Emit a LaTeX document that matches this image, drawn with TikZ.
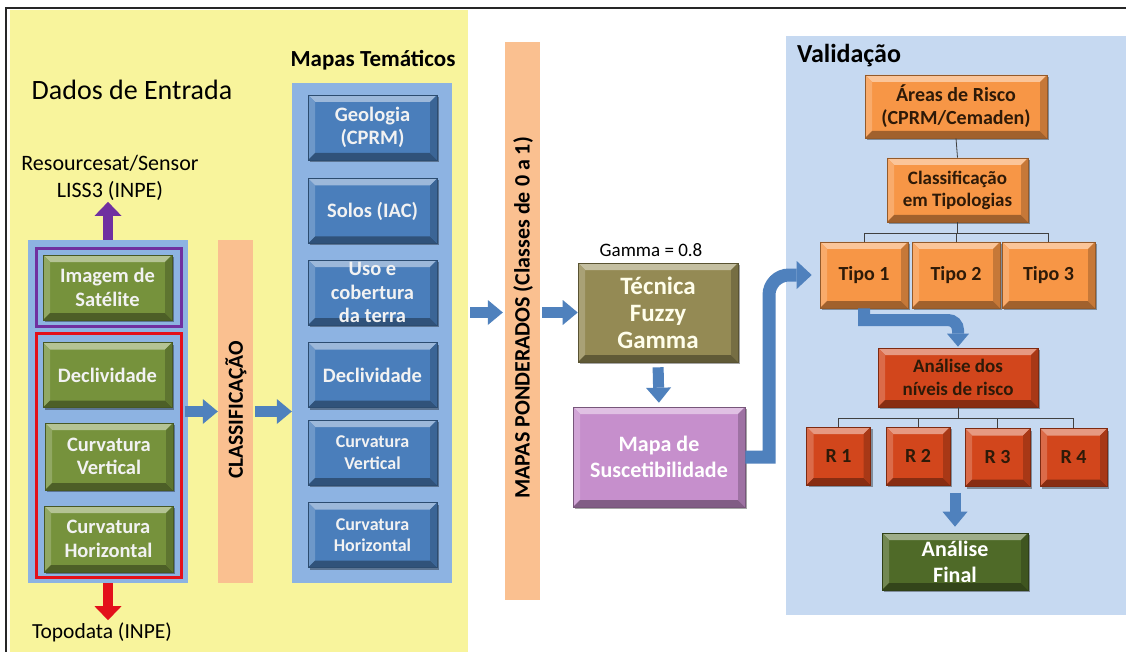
\documentclass[tikz,border=0pt]{standalone}
\usepackage{fontspec}
\setmainfont{Carlito}
\usetikzlibrary{arrows.meta,shadows}
\definecolor{ybgc}{HTML}{F8F49C}
\definecolor{panelB}{HTML}{8DB3E2}
\definecolor{panelV}{HTML}{C6D9F1}
\definecolor{barO}{HTML}{FAC090}
\definecolor{boxBlue}{HTML}{4A7EBB}
\definecolor{boxGreen}{HTML}{76923C}
\definecolor{boxOlive}{HTML}{948A54}
\definecolor{boxPink}{HTML}{C68FCC}
\definecolor{boxOrange}{HTML}{F79646}
\definecolor{boxRed}{HTML}{D2461C}
\definecolor{boxFinal}{HTML}{4F6A28}
\definecolor{arrowB}{HTML}{4F81BD}
\definecolor{purp}{HTML}{7030A0}
\definecolor{redF}{HTML}{E3101A}
\definecolor{txtDark}{HTML}{2E1A08}
\definecolor{txtLight}{HTML}{F2F2F2}
\newcommand\fs[2]{\fontsize{#1}{#2}\selectfont}
\tikzset{
  bev/.style n args={2}{fill=#1, draw=#1!60!black, line width=0.6pt, text=#2,
    align=center, inner sep=0pt,
    drop shadow={shadow xshift=2pt,shadow yshift=-2pt,opacity=0.35,fill=black},
    path picture={
      \coordinate (pNW) at (path picture bounding box.north west);
      \coordinate (pNE) at (path picture bounding box.north east);
      \coordinate (pSW) at (path picture bounding box.south west);
      \coordinate (pSE) at (path picture bounding box.south east);
      \fill[#1!55!white] (pNW) -- (pNE) -- ([shift={(-7pt,-7pt)}]pNE) -- ([shift={(7pt,-7pt)}]pNW) -- cycle;
      \fill[#1!80!white] (pNW) -- (pSW) -- ([shift={(7pt,7pt)}]pSW) -- ([shift={(7pt,-7pt)}]pNW) -- cycle;
      \fill[#1!65!black] (pSW) -- (pSE) -- ([shift={(-7pt,7pt)}]pSE) -- ([shift={(7pt,7pt)}]pSW) -- cycle;
      \fill[#1!80!black] (pNE) -- (pSE) -- ([shift={(-7pt,7pt)}]pSE) -- ([shift={(-7pt,-7pt)}]pNE) -- cycle;
    }},
  gbox/.style={bev={boxGreen}{txtLight}, font=\fs{20.5}{23.5}\bfseries, minimum width=129pt, minimum height=65pt},
  bbox/.style={bev={boxBlue}{txtLight}, font=\fs{20.5}{23.5}\bfseries, minimum width=129pt, minimum height=65pt},
  obox/.style={bev={boxOrange}{txtDark}, font=\fs{19}{22}\bfseries},
  rbox/.style={bev={boxRed}{txtDark}, font=\fs{20}{23}\bfseries, minimum width=64pt, minimum height=58pt},
  panel/.style={fill=#1, draw=none, inner sep=0pt},
  barrow/.style={draw=arrowB, line width=11pt, -{Triangle[length=15pt,width=25pt,line width=0pt]}},
  tline/.style={draw=black!75, line width=0.8pt},
}
\begin{document}
\begin{tikzpicture}[x=1pt,y=-1pt]
\useasboundingbox (0,0) rectangle (1126,652);
\fill[white] (0,0) rectangle (1126,652);
% backgrounds
\node[panel=ybgc, minimum width=458pt, minimum height=642pt] (ybg) at (239,331) {};
\node[panel=panelV, minimum width=340pt, minimum height=579pt] (vpanel) at (956,325.5) {};
\draw[line width=1.5pt, black!85] (6,652) -- (6,8) -- (1126,8);

% titles
\node[font=\fs{28}{31}] (dados) at (132,90) {Dados de Entrada};
\node[font=\fs{23}{26}\bfseries] (mt) at (373,60) {Mapas Temáticos};
\node[font=\fs{22}{27}, align=center, inner sep=1pt] (res) at (110,178) {Resourcesat/Sensor\\LISS3 (INPE)};
\node[font=\fs{21.5}{24}, inner sep=2pt] (topo) at (102,632) {Topodata (INPE)};

% left column
\node[panel=panelB, minimum width=160pt, minimum height=343pt] (lpanel) at (108,411.5) {};
\node[draw=purp, line width=3pt, minimum width=145pt, minimum height=77pt, inner sep=0pt] (prect) at (108.5,287.5) {};
\node[gbox] (imagem) at (107.5,287.5) {Imagem de\\Satélite};
\node[draw=redF, line width=3pt, minimum width=145pt, minimum height=244pt, inner sep=0pt] (rrect) at (108.5,455) {};
\node[gbox] (decl1) at (107.5,375) {Declividade};
\node[gbox, minimum width=128pt, minimum height=67pt] (cv1) at (109,456.5) {Curvatura\\Vertical};
\node[gbox, minimum height=66pt] (ch1) at (108.5,539) {Curvatura\\Horizontal};

\draw[draw=purp, line width=10pt, -{Triangle[length=14pt,width=27pt,line width=0pt]}] (lpanel.north) -- (lpanel.north |- res.south);
\draw[draw=redF, line width=10pt, -{Triangle[length=14pt,width=27pt,line width=0pt]}] (lpanel.south) -- (lpanel.south |- topo.north);

% classification bar
\node[panel=barO, minimum width=35pt, minimum height=343pt] (cbar) at (235.5,411.5) {};
\node[rotate=90, font=\fs{21.5}{24}\bfseries] (ctxt) at (236,410) {CLASSIFICAÇÃO};

% thematic maps
\node[panel=panelB, minimum width=160pt, minimum height=500pt] (mpanel) at (372,333) {};
\node[bbox] (geo) at (372.5,127.5) {Geologia\\(CPRM)};
\node[bbox] (solos) at (372.5,211) {Solos (IAC)};
\node[bbox] (uso) at (372.5,292.5) {Uso e\\cobertura\\da terra};
\node[bbox] (decl2) at (372.5,375) {Declividade};
\node[bbox, font=\fs{18}{21.5}\bfseries] (cv2) at (372.5,452.5) {Curvatura\\Vertical};
\node[bbox, font=\fs{18}{21.5}\bfseries] (ch2) at (372.5,535) {Curvatura\\Horizontal};

\draw[barrow, shorten <=-3pt] (lpanel.east) -- (cbar.west);
\draw[barrow, shorten <=2pt] (cbar.east) -- (cbar.east -| mpanel.west);

% weighted maps bar
\node[panel=barO, minimum width=35pt, minimum height=558pt] (pbar) at (522.5,321) {};
\node[rotate=90, font=\fs{22}{25}\bfseries] (ptxt) at (523,318) {MAPAS PONDERADOS (Classes de 0 a 1)};

% fuzzy
\node[font=\fs{19}{22}] (gamma) at (651,250) {Gamma = 0.8};
\node[bev={boxOlive}{white!92!yellow}, font=\fs{25}{27}\bfseries, minimum width=160pt, minimum height=99pt] (tec) at (658,312.5) {Técnica\\Fuzzy\\Gamma};
\node[bev={boxPink}{white}, font=\fs{22}{26}\bfseries, minimum width=172pt, minimum height=100pt] (mapa) at (659,457) {Mapa de\\Suscetibilidade};

\draw[barrow, shorten <=2pt, shorten >=2pt] (ybg.east |- tec.west) -- (pbar.west |- tec.west);
\draw[barrow, shorten <=2pt] (pbar.east |- tec.west) -- (tec.west);
\draw[barrow, shorten <=5pt, shorten >=4pt] (tec.south) -- (mapa.north);

% validation
\node[font=\fs{26}{28}\bfseries] (val) at (849,56) {Validação};
\node[obox, font=\fs{20}{23}\bfseries, minimum width=182pt, minimum height=63pt] (areas) at (956,106.5) {Áreas de Risco\\(CPRM/Cemaden)};
\node[obox, minimum width=141pt, minimum height=64pt] (class) at (957.5,190) {Classificação\\em Tipologias};
\node[obox, font=\fs{20}{23}\bfseries, minimum width=88pt, minimum height=66pt] (tipo1) at (864,275) {Tipo 1};
\node[obox, font=\fs{20}{23}\bfseries, minimum width=88pt, minimum height=66pt] (tipo2) at (956,275) {Tipo 2};
\node[obox, font=\fs{20}{23}\bfseries, minimum width=93pt, minimum height=66pt] (tipo3) at (1048.5,275) {Tipo 3};

\coordinate (ty) at (0,233);
\draw[tline] (areas.south) -- (class.north);
\draw[tline] (class.south) -- (class.south |- ty);
\draw[tline] (tipo1.north) -- (tipo1.north |- ty) -- (tipo3.north |- ty) -- (tipo3.north);
\draw[tline] (tipo2.north) -- (tipo2.north |- ty);

\node[bev={boxRed}{txtDark}, font=\fs{19}{23}\bfseries, minimum width=160pt, minimum height=59pt] (anal) at (958,377.5) {Análise dos\\níveis de risco};
\node[rbox] (r1) at (838.5,456) {R 1};
\node[rbox] (r2) at (918,456) {R 2};
\node[rbox, minimum width=65pt] (r3) at (997.5,457.5) {R 3};
\node[rbox, minimum width=67pt] (r4) at (1073.5,457.5) {R 4};
\coordinate (ry) at (0,418);
\draw[tline] (anal.south) -- (anal.south |- ry);
\draw[tline] (r1.north) -- (r1.north |- ry) -- (r4.north |- ry) -- (r4.north);
\draw[tline] (r2.north) -- (r2.north |- ry);
\draw[tline] (r3.north) -- (r3.north |- ry);

\node[bev={boxFinal}{white}, font=\fs{22}{26}\bfseries, minimum width=146pt, minimum height=57pt] (final) at (955,561.5) {Análise\\Final};
\draw[barrow, shorten <=6pt, shorten >=6pt] (final.north |- r3.south) -- (final.north);

% curved arrows
\coordinate (b1) at (769,0);
\draw[barrow, line width=13pt, -{Triangle[length=15pt,width=28pt,line width=0pt]}, shorten >=8pt]
  (mapa.east) -- (b1 |- mapa.east) -- ([yshift=-20pt]b1 |- tipo1.west)
  to[out=90,in=180] ([xshift=20pt]b1 |- tipo1.west) -- (tipo1.west);
\coordinate (b2) at (0,320);
\draw[barrow, line width=12pt, -{Triangle[length=13pt,width=22pt,line width=0pt]}, shorten >=1pt]
  (tipo1.south) -- (tipo1.south |- b2) -- ([xshift=-10pt]anal.north |- b2)
  to[out=0,in=90] ([yshift=-10pt]anal.north |- b2) -- (anal.north);
\end{tikzpicture}
\end{document}
